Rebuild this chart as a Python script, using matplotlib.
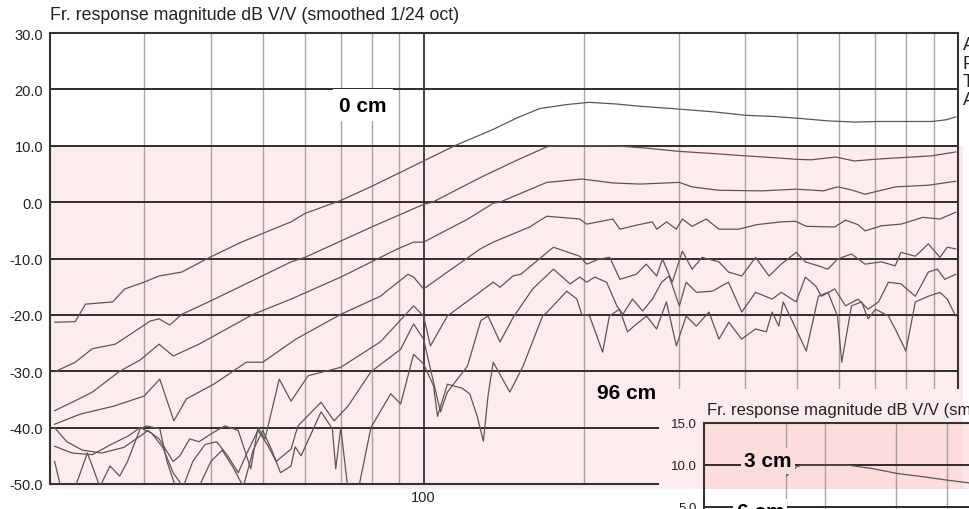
import matplotlib
matplotlib.use("Agg")
import numpy as np
import matplotlib.pyplot as plt
from matplotlib.patches import Rectangle

plt.rcParams['font.family'] = ['Liberation Sans', 'DejaVu Sans']

# frequency response per mic distance, Hz / dB
f_0cm = [20.4, 22.3, 23.3, 26.2, 27.6, 30, 32, 35.3, 39.6, 45.6, 56.5, 60, 70, 80, 100, 115, 135, 150, 165, 185,
         204, 230, 254, 301, 350, 401, 450, 498, 574, 640, 710, 800, 892, 950, 990]
db_0cm = [-21.3, -21.2, -18.1, -17.7, -15.4, -14.2, -13.1, -12.4, -9.9, -7.1, -3.5, -2.0, 0.3, 2.8, 7.3, 10.1, 12.9,
          15.0, 16.6, 17.3, 17.7, 17.4, 17.0, 16.5, 16.0, 15.4, 15.2, 14.9, 14.4, 14.2, 14.3, 14.3, 14.3, 14.6, 15.1]

f_3cm = [20.4, 22.3, 24, 26.5, 30.8, 32, 33.5, 35.3, 39.6, 45.6, 56.5, 60, 80, 100, 104, 128, 150, 170, 175, 200,
         226, 260, 301, 350, 401, 450, 498, 530, 590, 640, 700, 752, 892, 990]
db_3cm = [-30.1, -28.4, -26.0, -25.2, -21.1, -20.7, -21.8, -19.9, -17.7, -14.9, -10.6, -9.8, -4.4, -0.4, 0.0, 4.4,
          7.5, 9.8, 10.0, 10.0, 10.0, 9.6, 9.0, 8.6, 8.2, 7.9, 7.6, 7.5, 8.0, 7.3, 7.6, 7.8, 8.2, 8.9]

f_6cm = [20.4, 22, 24, 27, 29.5, 32, 34, 38, 48, 56.5, 70, 89.4, 95.8, 100, 121, 135, 139, 170, 198, 226,
         254, 301, 318, 357, 430, 498, 560, 595, 630, 670, 763, 880, 990]
db_6cm = [-37.0, -35.5, -33.7, -30.0, -28.0, -25.2, -27.3, -25.2, -19.9, -17.2, -13.3, -8.3, -7.1, -7.1, -3.0, -0.2,
          0.0, 3.5, 4.1, 3.4, 3.2, 3.5, 2.7, 2.1, 2.0, 2.3, 2.0, 2.7, 2.2, 1.4, 2.7, 3.0, 3.7]

f_12cm = [20.4, 22.8, 26.3, 30, 32.1, 34.1, 36, 40.5, 46.6, 50, 57.7, 70, 83, 93.5, 95.8, 100, 110.8, 127.7, 135,
          158, 170, 196, 202, 226, 233, 250, 268, 273, 285, 297, 305, 318, 338, 357, 389, 420, 467, 497, 520, 588,
          616, 650, 670, 719, 782, 860, 925, 990]
db_12cm = [-39.4, -37.6, -36.2, -34.4, -31.4, -38.8, -34.9, -32.3, -28.4, -28.4, -24.3, -19.9, -16.7, -12.8, -13.3,
           -15.4, -12.4, -8.3, -7.1, -4.4, -2.5, -3.0, -3.9, -3.0, -4.8, -4.1, -3.5, -4.8, -3.5, -4.8, -3.0, -4.3,
           -3.0, -4.8, -4.8, -4.0, -3.5, -3.4, -4.3, -4.4, -3.2, -4.0, -5.1, -4.2, -3.9, -2.7, -3.0, -1.8]

f_24cm = [20.4, 21.5, 23, 25, 27.5, 29.5, 30.5, 32, 34, 35, 36.5, 38, 40.5, 42.5, 45, 47.5, 49, 50.5, 53.7, 56.5,
          60.8, 70, 83, 95.8, 100, 103, 110.8, 135, 139, 147, 152, 175, 196, 202, 213, 223, 233, 250, 261, 273,
          280, 292, 305, 318, 332, 357, 372, 394, 418, 443, 467, 498, 518, 548, 571, 595, 632, 670, 719, 763,
          782, 832, 880, 925, 955, 990]
db_24cm = [-40.0, -42.5, -44.0, -44.5, -43.5, -41.5, -40.5, -42.0, -46.0, -45.0, -42.0, -42.5, -40.8, -39.7, -40.5,
           -47.3, -40.0, -42.0, -31.4, -35.3, -30.8, -29.3, -24.8, -18.4, -20.2, -25.5, -20.2, -14.2, -15.1, -13.1,
           -12.8, -8.0, -9.6, -11.0, -10.1, -9.8, -13.7, -12.8, -11.0, -13.1, -10.1, -14.2, -8.7, -11.9, -9.8,
           -10.6, -12.4, -13.1, -9.8, -13.1, -11.0, -8.9, -10.6, -11.3, -11.9, -10.1, -9.2, -11.0, -10.6, -11.3,
           -8.9, -9.6, -7.4, -9.8, -8.0, -8.3]

f_48cm = [20.4, 22, 24, 26, 28, 29.5, 31, 32.5, 34, 35.5, 37, 39, 41, 43, 45, 47, 49, 51, 53, 56.5, 58.2, 64.3,
          68, 72.2, 79.7, 90.6, 95.8, 100, 106.2, 107.6, 110.8, 120.8, 128, 132, 139, 147, 160, 175, 188, 196,
          202, 209, 220, 230, 236, 246, 257, 268, 279, 288, 301, 310, 324, 347, 372, 394, 418, 449, 467, 498,
          518, 542, 555, 588, 616, 650, 679, 710, 741, 782, 832, 880, 915, 945, 990]
db_48cm = [-43.3, -44.5, -44.8, -43.0, -41.5, -40.0, -41.0, -43.5, -48.0, -50.5, -46.0, -43.0, -42.5, -45.0, -48.0,
           -44.0, -40.5, -43.0, -46.0, -43.8, -39.7, -35.5, -38.8, -36.2, -30.1, -26.1, -21.6, -24.3, -35.0, -37.2,
           -33.7, -29.1, -21.0, -20.2, -24.8, -20.5, -15.4, -11.9, -14.5, -13.3, -14.2, -13.3, -14.2, -18.4,
           -19.9, -17.2, -19.3, -17.2, -14.2, -13.1, -18.4, -14.2, -16.0, -15.8, -14.2, -19.5, -16.0, -17.2,
           -16.0, -17.7, -13.3, -14.9, -16.7, -15.4, -18.4, -17.2, -19.0, -17.7, -14.2, -14.5, -16.7, -12.4,
           -11.9, -13.7, -12.8]

f_96cm = [20.4, 21, 22.3, 23.5, 24.8, 25.9, 27, 27.9, 29.5, 30.3, 32.1, 33.1, 34.1, 35.5, 38, 40, 42, 44, 46, 48,
          50, 52, 54, 56.5, 57.5, 59, 64.3, 67.5, 68.5, 70, 72.2, 75.5, 79.7, 86.8, 90.6, 95.8, 100, 104.4, 106.2,
          110.8, 118, 122, 126, 129.4, 132, 135, 145, 153.5, 167, 170.4, 185.3, 193.6, 197.6, 204.5, 216.3, 222.7,
          232.6, 240.8, 250.4, 261.4, 272.9, 284.7, 297.2, 310, 323.8, 342, 357, 372.5, 393.6, 418, 438, 449,
          462, 471, 497.6, 520, 548, 571, 595, 606, 632, 660, 679, 701, 741, 763, 799, 832, 880, 925, 955, 990]
db_96cm = [-46.0, -51.0, -50.5, -44.5, -50.5, -46.8, -48.6, -46.1, -40.2, -39.7, -40.2, -46.0, -49.6, -53.0, -50.5,
           -46.0, -44.0, -47.0, -50.5, -44.0, -40.5, -44.0, -48.0, -46.8, -43.4, -45.0, -37.2, -40.2, -47.3, -40.0,
           -51.0, -51.0, -40.0, -34.0, -35.8, -27.0, -28.7, -32.6, -38.0, -32.3, -33.0, -34.0, -38.0, -42.4, -34.4,
           -28.4, -33.7, -29.1, -20.2, -19.5, -15.8, -17.2, -19.9, -20.2, -26.6, -20.2, -19.0, -23.0, -21.6, -20.2,
           -22.5, -17.7, -25.5, -20.2, -22.0, -19.5, -24.3, -21.3, -24.3, -22.5, -23.0, -19.5, -22.0, -17.7, -22.5,
           -26.4, -16.7, -16.0, -20.2, -28.4, -18.4, -17.7, -20.7, -19.0, -20.2, -22.5, -26.4, -17.7, -16.7, -16.0,
           -17.2, -20.2]

curves = [(f_0cm, db_0cm), (f_3cm, db_3cm), (f_6cm, db_6cm), (f_12cm, db_12cm),
          (f_24cm, db_24cm), (f_48cm, db_48cm), (f_96cm, db_96cm)]

y_ticks = [-50, -40, -30, -20, -10, 0, 10, 20, 30]
x_major = [100, 1000]
x_labels = ['100', '']
x_minor = [30, 40, 50, 60, 70, 80, 90, 200, 300, 400, 500, 600, 700, 800, 900]
inset_y_ticks = [0, 5, 10, 15]
inset_x_grid = [160, 200, 300, 400, 500]
title = 'Fr. response magnitude dB V/V (smoothed 1/24 oct)'
side_letters = ['A', 'F', 'T', 'A']

PINK = '#fdecec'
PINK_DARK = '#fcdcdc'
PINK_MID = '#fde6e6'
LINE = '#5e5656'
W, H = 970, 510


def box(x0, y0, x1, y1):
    # pixel box (top-left origin) -> figure fraction rect
    return [x0 / W, 1 - y1 / H, (x1 - x0) / W, (y1 - y0) / H]


fig = plt.figure(figsize=(W / 100, H / 100), dpi=100)
fig.patch.set_facecolor('white')

ax = fig.add_axes(box(50, 34, 958, 485))
ax.set_facecolor('none')
ax.set_xscale('log')
ax.set_xlim(20, 1000)
ax.set_ylim(-50, 30)

# pink band below +10 dB (spills a few px past the frame)
ax.add_patch(Rectangle((0, -50.9), 1.0055, 60.9, transform=ax.get_yaxis_transform(),
                       fc=PINK, ec='none', clip_on=False, zorder=0))

ax.set_yticks(y_ticks)
ax.set_yticklabels(['%.1f' % v for v in y_ticks])
ax.set_xticks(x_major)
ax.set_xticklabels(x_labels)
ax.set_xticks(x_minor, minor=True)
ax.set_xticklabels([], minor=True)
ax.tick_params(which='both', length=0, labelsize=10.5, colors='#222222')
ax.tick_params(axis='y', pad=5)
ax.tick_params(axis='x', pad=4)
ax.grid(which='minor', axis='x', color='#a9a3a3', lw=1.0, zorder=1)
ax.grid(which='major', axis='x', color='#222222', lw=1.2, zorder=1)
ax.grid(which='major', axis='y', color='#332a2a', lw=1.4, zorder=1)
ax.set_axisbelow(True)
for s in ax.spines.values():
    s.set_color('#333333')
    s.set_linewidth(1.5)

for f, db in curves:
    ax.plot(f, db, color=LINE, lw=0.9, zorder=3)

ax.text(76.9, 17.2, '0 cm', fontsize=15, fontweight='bold', ha='center', va='center', zorder=5,
        bbox=dict(boxstyle='square,pad=0.3', fc='white', ec='none'))
ax.text(240, -33.7, '96 cm', fontsize=15, fontweight='bold', ha='center', va='center', zorder=5)

fig.text(50 / W, 1 - 16 / H, title, fontsize=12.8, ha='left', va='center', color='#222222')
for i, letter in enumerate(side_letters):
    fig.text(963 / W, 1 - (46 + 18.3 * i) / H, letter, fontsize=13, ha='left', va='center', color='#222222')

# inset: zoomed copy of the 3 cm trace, pasted over the lower right corner
fig.patches.append(Rectangle((659 / W, 0), (W - 659) / W, (H - 390) / H, transform=fig.transFigure,
                             fc='white', ec='none', zorder=5))
fig.patches.append(Rectangle((659 / W, 1 - 490 / H), (963 - 659) / W, (490 - 390) / H,
                             transform=fig.transFigure, fc=PINK, ec='none', zorder=5.5))
ins = fig.add_axes(box(704, 424, 1107, 550))
ins.set_zorder(6)
ins.set_facecolor('none')
ins.set_xscale('log')
ins.set_xlim(100, 1000)
ins.set_ylim(0, 15)
band_lo = 15 - 66 / 8.4
ins.add_patch(Rectangle((100, band_lo), 339, 15 - band_lo, fc=PINK_DARK, ec='none', zorder=0))
ins.add_patch(Rectangle((439, band_lo), 561, 15 - band_lo, fc=PINK_MID, ec='none', zorder=0))
ins.set_yticks(inset_y_ticks)
ins.set_yticklabels(['%.1f' % v for v in inset_y_ticks])
ins.set_xticks(inset_x_grid, minor=True)
ins.set_xticks([])
ins.set_xticklabels([], minor=True)
ins.tick_params(which='both', length=0, labelsize=9.5, colors='#222222', pad=5)
ins.grid(which='minor', axis='x', color='#a9a3a3', lw=1.0)
ins.grid(which='major', axis='y', color='#332a2a', lw=1.4)
ins.set_axisbelow(True)
for s in ins.spines.values():
    s.set_color('#333333')
    s.set_linewidth(1.5)
ln, = ins.plot(f_3cm, db_3cm, color=LINE, lw=0.9, zorder=3)
ln.set_clip_path(Rectangle((160, 0), 900, 15, transform=ins.transData))
ins.text(144, 10.48, '3 cm', fontsize=15, fontweight='bold', ha='center', va='center', zorder=5,
         bbox=dict(boxstyle='square,pad=0.15', fc=PINK_DARK, ec='none'))
ins.text(138, 4.5, '6 cm', fontsize=15, fontweight='bold', ha='center', va='center', zorder=5,
         bbox=dict(boxstyle='square,pad=0.15', fc='white', ec='none'))
fig.text(707 / W, 1 - 410 / H, title, fontsize=12, ha='left', va='center', color='#222222', zorder=7)

fig.savefig('out.png', dpi=100)
